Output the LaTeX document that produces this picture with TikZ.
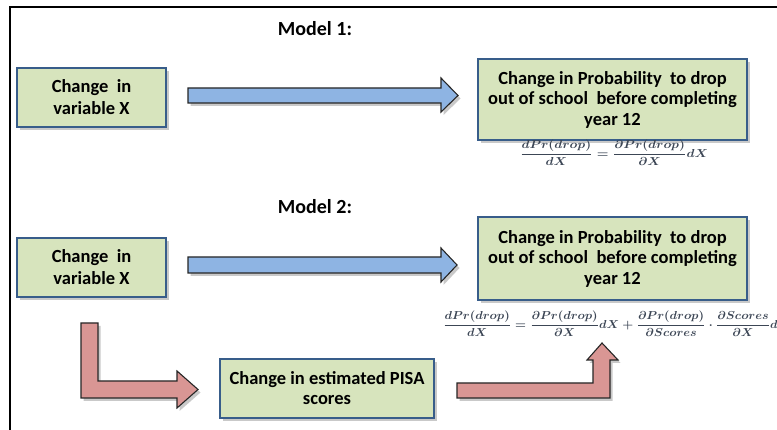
\documentclass[tikz,border=0pt]{standalone}
\usepackage{amsmath}
\usepackage{fontspec}
\setmainfont{Carlito}
\usepackage{graphicx}
\usetikzlibrary{shadows}
\definecolor{boxfill}{HTML}{D7E4BD}
\definecolor{boxline}{HTML}{385D8A}
\definecolor{bluearrow}{HTML}{8EB4E3}
\definecolor{redarrow}{HTML}{D99694}
\definecolor{arrowline}{HTML}{262626}
\definecolor{formula}{RGB}{60,70,85}
\tikzset{
  myshadow/.style={drop shadow={shadow xshift=2.5pt,shadow yshift=-3pt,opacity=0.35,fill=black!60}},
  greenbox/.style={draw=boxline,line width=1.3pt,fill=boxfill,myshadow,inner sep=0pt,align=center,
    font=\bfseries\fontsize{18.5}{21}\selectfont},
  bluearr/.style={draw=arrowline,line width=1.1pt,fill=bluearrow,myshadow,line join=miter},
  redarr/.style={draw=arrowline,line width=1.1pt,fill=redarrow,myshadow,line join=miter},
  title/.style={font=\bfseries\fontsize{20}{22}\selectfont,inner sep=0pt},
  formulanode/.style={text=formula,inner sep=0pt}
}
\begin{document}
\begin{tikzpicture}[x=1pt,y=-1pt]
\useasboundingbox (0,0) rectangle (777,430);
\clip (0,0) rectangle (777,430);
\fill[white] (0,0) rectangle (777,430);
% frame
\draw[line width=2.5pt] (10,431) -- (10,7) -- (778,7);
% titles
\node[title] (m1) at (315,29) {Model 1:};
\node[title] (m2) at (315,207) {Model 2:};
% model 1
\node[greenbox,minimum width=149pt,minimum height=59pt,font=\bfseries\fontsize{18.5}{22}\selectfont] (x1) at (91.5,97.5) {Change\ \ in\\variable X};
\node[greenbox,minimum width=269pt,minimum height=81pt,font=\bfseries\fontsize{18.5}{20.5}\selectfont] (p1) at (612.5,99.5) {Change in Probability\ \ to drop\\out of school\ \ before completing\\year 12};
\draw[bluearr] (188,88) -- (441,88) -- (441,78) -- (458,95.5) -- (441,112) -- (441,103) -- (188,103) -- cycle;
\node[formulanode] (f1) at (614,153) {\resizebox*{188pt}{26pt}{\boldmath$\dfrac{dPr(drop)}{dX}=\dfrac{\partial Pr(drop)}{\partial X}dX$}};
% model 2
\node[greenbox,minimum width=149pt,minimum height=59pt,font=\bfseries\fontsize{18.5}{22}\selectfont] (x2) at (91.5,267.5) {Change\ \ in\\variable X};
\node[greenbox,minimum width=269pt,minimum height=83pt,font=\bfseries\fontsize{18.5}{20.5}\selectfont] (p2) at (612.5,258.5) {Change in Probability\ \ to drop\\out of school\ \ before completing\\year 12};
\node[greenbox,minimum width=214pt,minimum height=59pt,font=\bfseries\fontsize{18.5}{20}\selectfont] (s) at (327,388.5) {Change in estimated PISA\\scores};
\draw[bluearr] (188,257) -- (441,257) -- (441,248) -- (457,265) -- (441,282) -- (441,273) -- (188,273) -- cycle;
\draw[redarr] (81,323) -- (98,323) -- (98,381) -- (177,381) -- (177,371) -- (198,389.5) -- (177,408) -- (177,398) -- (81,398) -- cycle;
\draw[redarr] (457,383) -- (593,383) -- (593,360) -- (587,360) -- (602,343) -- (618,360) -- (610,360) -- (610,398) -- (457,398) -- cycle;
\node[formulanode,anchor=west] (f2) at (443,324) {\resizebox*{347pt}{26pt}{\boldmath$\dfrac{dPr(drop)}{dX}=\dfrac{\partial Pr(drop)}{\partial X}dX+\dfrac{\partial Pr(drop)}{\partial Scores}\cdot\dfrac{\partial Scores}{\partial X}dX$}};
\end{tikzpicture}
\end{document}
